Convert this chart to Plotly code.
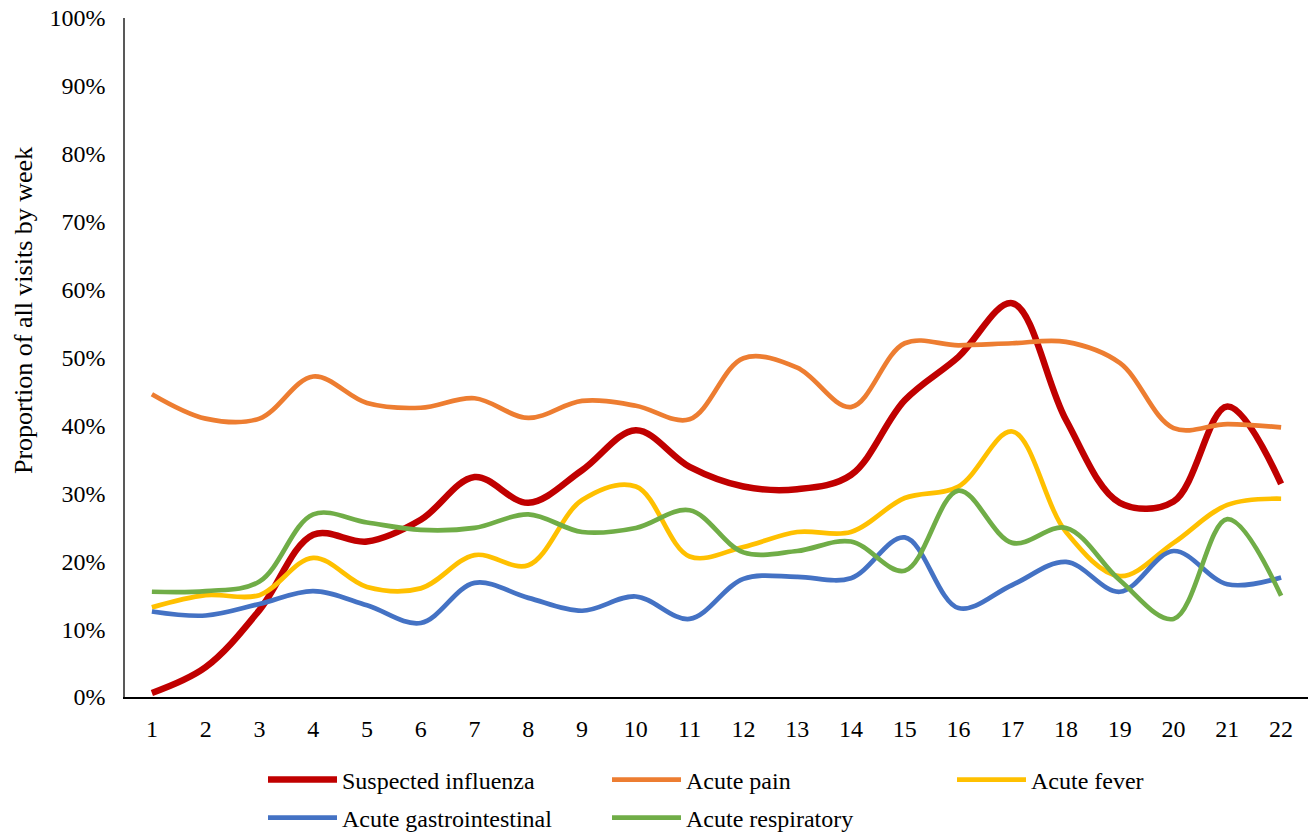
import plotly.graph_objects as go

weeks = list(range(1, 23))

suspected_influenza = [0.006, 0.044, 0.128, 0.239, 0.229, 0.261, 0.324, 0.286, 0.334, 0.393,
                       0.339, 0.310, 0.306, 0.327, 0.437, 0.501, 0.580, 0.408, 0.286, 0.288,
                       0.428, 0.314]
acute_pain = [0.446, 0.410, 0.410, 0.472, 0.433, 0.426, 0.440, 0.411, 0.436, 0.429,
              0.409, 0.499, 0.485, 0.427, 0.521, 0.518, 0.521, 0.523, 0.492, 0.396,
              0.402, 0.397]
acute_fever = [0.132, 0.150, 0.150, 0.205, 0.162, 0.160, 0.209, 0.194, 0.290, 0.310,
               0.207, 0.221, 0.243, 0.243, 0.293, 0.310, 0.391, 0.243, 0.178, 0.227,
               0.283, 0.292]
acute_gi = [0.126, 0.120, 0.137, 0.156, 0.135, 0.109, 0.168, 0.146, 0.127, 0.148,
            0.115, 0.174, 0.177, 0.175, 0.235, 0.131, 0.165, 0.199, 0.155, 0.215,
            0.166, 0.176]
acute_respiratory = [0.155, 0.156, 0.170, 0.269, 0.257, 0.246, 0.249, 0.269, 0.243, 0.249,
                     0.275, 0.213, 0.215, 0.229, 0.186, 0.304, 0.227, 0.249, 0.172, 0.115,
                     0.262, 0.149]

W, H = 1314, 838
ML, MR, MT, MB = 125, 6, 18, 141
PW, PH = W - ML - MR, H - MT - MB

# name, values, colour, line width, legend id, legend slot (left px, row centre px)
series = [
    ("Suspected influenza", suspected_influenza, "#C00000", 6.5, "legend", (263, 780)),
    ("Acute pain", acute_pain, "#ED7D31", 4.7, "legend2", (607, 780)),
    ("Acute fever", acute_fever, "#FFC000", 4.7, "legend3", (952, 780)),
    ("Acute gastrointestinal", acute_gi, "#4472C4", 4.7, "legend4", (263, 818)),
    ("Acute respiratory", acute_respiratory, "#70AD47", 4.7, "legend5", (607, 818)),
]

y_ticks = [i / 10 for i in range(11)]
y_tick_text = [f"{i * 10}%" for i in range(11)]

font_family = "Liberation Serif, Times New Roman, serif"
legend_font = dict(family=font_family, size=24, color="#000000")

fig = go.Figure()
legends = {}
for name, vals, color, width, leg, (lx, ly) in series:
    fig.add_trace(go.Scatter(
        x=weeks, y=vals, name=name, mode="lines", legend=leg,
        line=dict(color=color, width=width, shape="spline", smoothing=1.0),
    ))
    legends[leg] = dict(
        xref="paper", yref="container",
        x=(lx - ML) / PW, y=1 - ly / H,
        xanchor="left", yanchor="middle",
        itemwidth=69, font=legend_font, bgcolor="rgba(0,0,0,0)",
    )

fig.update_layout(
    width=W, height=H,
    margin=dict(l=ML, r=MR, t=MT, b=MB),
    paper_bgcolor="white", plot_bgcolor="white",
    font=dict(family=font_family, size=24, color="#000000"),
    showlegend=True,
    xaxis=dict(
        range=[0.5, 22.5], tickmode="array", tickvals=weeks,
        ticktext=[str(w) for w in weeks],
        showgrid=False, zeroline=False, showline=True,
        linecolor="#000000", linewidth=2, ticks="",
        ticklabelstandoff=9,
        tickfont=dict(family=font_family, size=24, color="#000000"),
    ),
    yaxis=dict(
        range=[0, 1], tickmode="array", tickvals=y_ticks, ticktext=y_tick_text,
        showgrid=False, zeroline=False, showline=True,
        linecolor="#595959", linewidth=1.5, ticks="",
        ticklabelstandoff=13,
        tickfont=dict(family=font_family, size=24, color="#000000"),
    ),
    annotations=[dict(
        text="Proportion of all visits by week",
        xref="paper", yref="paper",
        x=(23 - ML) / PW, y=(H - MB - 311) / PH,
        xanchor="center", yanchor="middle",
        textangle=-90, showarrow=False,
        font=dict(family=font_family, size=26, color="#000000"),
    )],
    **legends,
)

fig.write_html("out.html")
